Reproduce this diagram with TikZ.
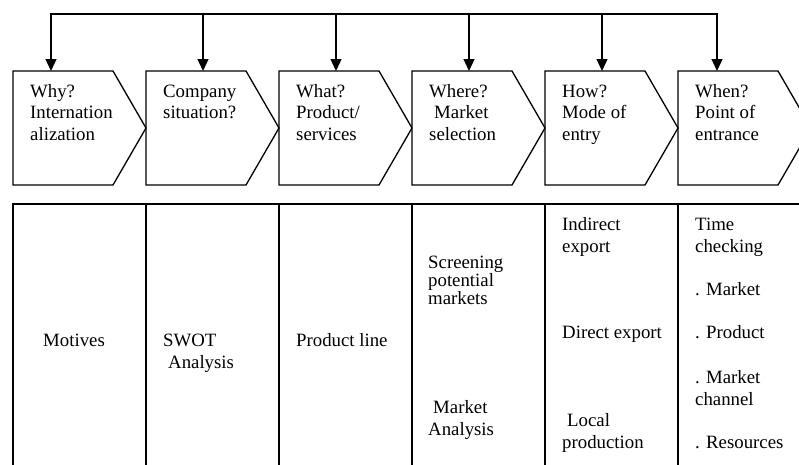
\documentclass[tikz,border=0pt]{standalone}
\usepackage{fontspec}
\setmainfont{Liberation Serif}
\usetikzlibrary{arrows.meta}
\begin{document}
\begin{tikzpicture}[x=1pt,y=-1pt,
  line/.style={line width=1.3pt, draw=black, line join=miter},
  arr/.style={line, -{Triangle[length=12pt,width=11pt]}},
  lbl/.style={anchor=base west, inner sep=0pt, align=left, font=\fontsize{18.8}{21.5}\selectfont},
  lbls/.style={lbl, font=\fontsize{18.8}{18}\selectfont}]
\useasboundingbox (0,0) rectangle (799,464);
\clip (0,0) rectangle (799,464);
% chevrons
\foreach \x in {13,146,279,412,545,678}{
  \draw[line] (\x,71) -- ++(100,0) -- ++(33,57) -- ++(-33,57) -- ++(-100,0) -- cycle;
}
% bottom columns
\foreach \x in {13,146,279,412,545,678}{
  \draw[line] (\x,204) rectangle ++(133,280);
}
% arrow targets and bus
\coordinate (t1) at (51,71);
\coordinate (t2) at (203,71);
\coordinate (t3) at (336,71);
\coordinate (t4) at (469,71);
\coordinate (t5) at (602,71);
\coordinate (t6) at (717,71);
\coordinate (b1) at (51,14);
\coordinate (b2) at (203,14);
\coordinate (b3) at (336,14);
\coordinate (b4) at (469,14);
\coordinate (b5) at (602,14);
\coordinate (b6) at (717,14);
\draw[line, {Triangle[length=12pt,width=11pt]}-{Triangle[length=12pt,width=11pt]}] (t1) -- (b1) -- (b6) -- (t6);
\draw[arr] (b2) -- (t2);
\draw[arr] (b3) -- (t3);
\draw[arr] (b4) -- (t4);
\draw[arr] (b5) -- (t5);
% top labels (anchored at the baseline of the last line)
\node[lbl] (h1) at (30,140) {Why?\\Internation\\alization};
\node[lbl] (h2) at (163,118.5) {Company\\situation?};
\node[lbl] (h3) at (296,140) {What?\\Product/\\services};
\node[lbl] (h4) at (429,140) {Where?\\\hspace*{5pt}Market\\selection};
\node[lbl] (h5) at (562,140) {How?\\Mode of\\entry};
\node[lbl] (h6) at (695,140) {When?\\Point of\\entrance};
% bottom labels
\node[lbl] (m1) at (43,346) {Motives};
\node[lbl] (m2) at (163,368) {SWOT\\\hspace*{5pt}Analysis};
\node[lbl] (m3) at (296,346) {Product line};
\node[lbls] (m4a) at (428,304) {Screening\\potential\\markets};
\node[lbl] (m4b) at (428,435) {\hspace*{5pt}Market\\Analysis};
\node[lbl] (m5a) at (562,252) {Indirect\\export};
\node[lbl] (m5b) at (562,338) {Direct export};
\node[lbl] (m5c) at (562,448) {\hspace*{5pt}Local\\production};
\node[lbl] (m6a) at (695,252) {Time\\checking};
\node[lbl] (m6b) at (695,295) {. Market};
\node[lbl] (m6c) at (695,338) {. Product};
\node[lbl] (m6d) at (695,405) {. Market\\channel};
\node[lbl] (m6e) at (695,448) {. Resources};
\end{tikzpicture}
\end{document}
